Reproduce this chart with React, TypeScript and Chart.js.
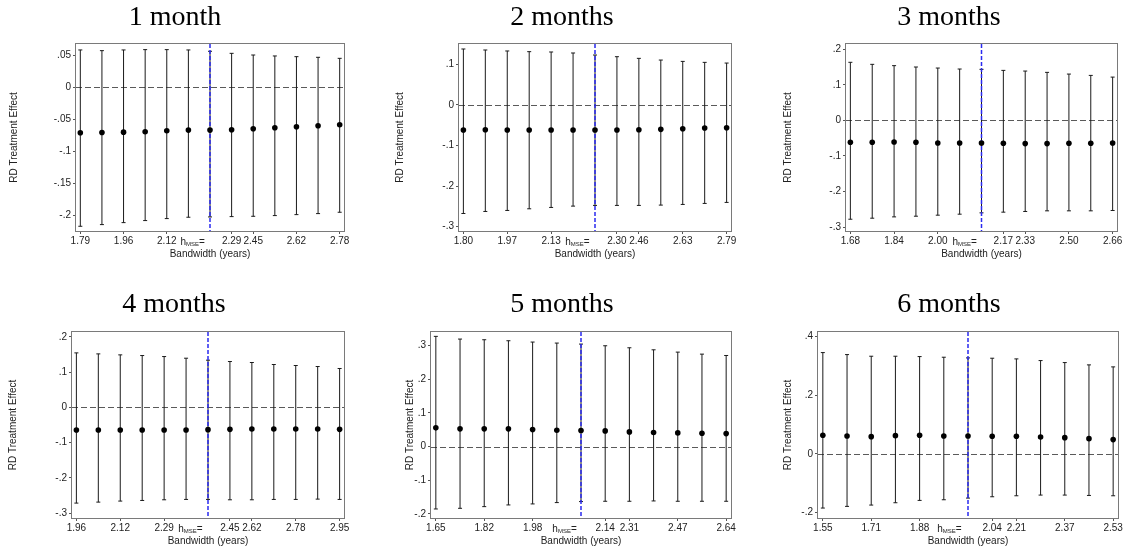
import { useEffect, useRef } from 'react';
import { Chart, registerables } from 'chart.js';

Chart.register(...registerables);

// ---- data -------------------------------------------------------------
// 13 bandwidths per panel, evenly spaced by step; step 6 is the MSE-optimal one.
const steps = [0, 1, 2, 3, 4, 5, 6, 7, 8, 9, 10, 11, 12];
const hMseStep = 6;

const titles = ['1 month', '2 months', '3 months', '4 months', '5 months', '6 months'];

// labelled steps on the bandwidth axis and their labels (years)
const bwTickSteps = [0, 2, 4, 7, 8, 10, 12];
const bwLabels1 = ['1.79', '1.96', '2.12', '2.29', '2.45', '2.62', '2.78'];
const bwLabels2 = ['1.80', '1.97', '2.13', '2.30', '2.46', '2.63', '2.79'];
const bwLabels3 = ['1.68', '1.84', '2.00', '2.17', '2.33', '2.50', '2.66'];
const bwLabels4 = ['1.96', '2.12', '2.29', '2.45', '2.62', '2.78', '2.95'];
const bwLabels5 = ['1.65', '1.82', '1.98', '2.14', '2.31', '2.47', '2.64'];
const bwLabels6 = ['1.55', '1.71', '1.88', '2.04', '2.21', '2.37', '2.53'];

// where the "h_MSE=" note sits on the step axis
const hMseNoteAt = [5.2, 5.2, 5.23, 5.2, 5.32, 5.23];

// y-axis ticks
const yTicks1 = [0.05, 0, -0.05, -0.1, -0.15, -0.2];
const yTicks2 = [0.1, 0, -0.1, -0.2, -0.3];
const yTicks3 = [0.2, 0.1, 0, -0.1, -0.2, -0.3];
const yTicks4 = [0.2, 0.1, 0, -0.1, -0.2, -0.3];
const yTicks5 = [0.3, 0.2, 0.1, 0, -0.1, -0.2];
const yTicks6 = [0.4, 0.2, 0, -0.2];

// y-axis ranges [min, max]
const yRange1 = [-0.2245, 0.0678];
const yRange2 = [-0.311, 0.1503];
const yRange3 = [-0.311, 0.215];
const yRange4 = [-0.314, 0.214];
const yRange5 = [-0.2121, 0.3407];
const yRange6 = [-0.2185, 0.4156];

// RD estimates with confidence bounds
const est1 = [-0.071, -0.0705, -0.07, -0.0694, -0.0678, -0.0668, -0.0668, -0.0663, -0.0647, -0.0632, -0.0616, -0.06, -0.0585];
const hi1 = [0.0585, 0.0574, 0.0585, 0.059, 0.059, 0.0585, 0.0564, 0.0532, 0.0506, 0.0491, 0.048, 0.047, 0.0454];
const lo1 = [-0.2171, -0.2145, -0.2114, -0.2082, -0.2051, -0.203, -0.2025, -0.202, -0.2015, -0.2004, -0.1989, -0.1973, -0.1952];

const est2 = [-0.062, -0.0612, -0.062, -0.062, -0.062, -0.062, -0.062, -0.062, -0.0612, -0.0603, -0.0587, -0.057, -0.0562];
const hi2 = [0.138, 0.1355, 0.1331, 0.1314, 0.1306, 0.1281, 0.1231, 0.119, 0.1149, 0.1107, 0.1074, 0.105, 0.1033];
const lo2 = [-0.2678, -0.2628, -0.2603, -0.2562, -0.2529, -0.2496, -0.2479, -0.2479, -0.2479, -0.2471, -0.2455, -0.243, -0.2405];

const est3 = [-0.0614, -0.0614, -0.0605, -0.0614, -0.0633, -0.0633, -0.0633, -0.0643, -0.0652, -0.0652, -0.0643, -0.0643, -0.0633];
const hi3 = [0.1635, 0.1578, 0.1541, 0.1503, 0.1474, 0.1446, 0.1437, 0.1408, 0.1389, 0.1352, 0.1304, 0.1267, 0.1219];
const lo3 = [-0.2779, -0.275, -0.2713, -0.2694, -0.2665, -0.2637, -0.2599, -0.258, -0.2561, -0.2543, -0.2543, -0.2543, -0.2533];

const est4 = [-0.0642, -0.0642, -0.0642, -0.0642, -0.0642, -0.0642, -0.0632, -0.0623, -0.0613, -0.0613, -0.0613, -0.0613, -0.0623];
const hi4 = [0.1547, 0.1519, 0.1491, 0.1472, 0.1443, 0.1396, 0.134, 0.1302, 0.1274, 0.1217, 0.1189, 0.116, 0.1104];
const lo4 = [-0.2717, -0.2689, -0.266, -0.2642, -0.2623, -0.2613, -0.2613, -0.2623, -0.2623, -0.2613, -0.2613, -0.2604, -0.2613];

const est5 = [0.0558, 0.0528, 0.0528, 0.0528, 0.0508, 0.0488, 0.0478, 0.0468, 0.0438, 0.0418, 0.0408, 0.0398, 0.0388];
const hi5 = [0.3277, 0.3197, 0.3177, 0.3147, 0.3108, 0.3078, 0.3048, 0.2998, 0.2938, 0.2878, 0.2809, 0.2749, 0.2709];
const lo5 = [-0.1853, -0.1833, -0.1783, -0.1733, -0.1703, -0.1663, -0.1633, -0.1624, -0.1624, -0.1614, -0.1624, -0.1624, -0.1624];

const est6 = [0.0634, 0.0612, 0.0589, 0.0623, 0.0634, 0.0612, 0.0612, 0.06, 0.06, 0.0578, 0.0555, 0.0521, 0.0487];
const hi6 = [0.3454, 0.3386, 0.333, 0.333, 0.3318, 0.3296, 0.3273, 0.3262, 0.3239, 0.3182, 0.3114, 0.3035, 0.2967];
const lo6 = [-0.1846, -0.1789, -0.1744, -0.1665, -0.1585, -0.1563, -0.1506, -0.1461, -0.1427, -0.1404, -0.1404, -0.1416, -0.1427];

const panelData = [
  { title: titles[0], est: est1, lo: lo1, hi: hi1, bw: bwLabels1, yTicks: yTicks1, yRange: yRange1, note: hMseNoteAt[0] },
  { title: titles[1], est: est2, lo: lo2, hi: hi2, bw: bwLabels2, yTicks: yTicks2, yRange: yRange2, note: hMseNoteAt[1] },
  { title: titles[2], est: est3, lo: lo3, hi: hi3, bw: bwLabels3, yTicks: yTicks3, yRange: yRange3, note: hMseNoteAt[2] },
  { title: titles[3], est: est4, lo: lo4, hi: hi4, bw: bwLabels4, yTicks: yTicks4, yRange: yRange4, note: hMseNoteAt[3] },
  { title: titles[4], est: est5, lo: lo5, hi: hi5, bw: bwLabels5, yTicks: yTicks5, yRange: yRange5, note: hMseNoteAt[4] },
  { title: titles[5], est: est6, lo: lo6, hi: hi6, bw: bwLabels6, yTicks: yTicks6, yRange: yRange6, note: hMseNoteAt[5] },
];

// ---- layout -----------------------------------------------------------
const PAGE_W = 1129;
const PAGE_H = 551;
const cells = [
  { x: 0, y: 0, w: 370, h: 280 },
  { x: 370, y: 0, w: 380, h: 280 },
  { x: 750, y: 0, w: 379, h: 280 },
  { x: 0, y: 280, w: 370, h: 271 },
  { x: 370, y: 280, w: 380, h: 271 },
  { x: 750, y: 280, w: 379, h: 271 },
];
// plot frames in page coordinates
const frames = [
  { l: 76, r: 344, t: 44, b: 231 },
  { l: 459, r: 731, t: 44, b: 231 },
  { l: 846, r: 1117, t: 44, b: 231 },
  { l: 72, r: 344, t: 332, b: 518 },
  { l: 431, r: 731, t: 332, b: 518 },
  { l: 818, r: 1118, t: 332, b: 518 },
];
const titleCx = [175, 562, 949, 174, 562, 949];
const titleBase = [25, 25, 25, 311.5, 311.5, 311.5];
const yTitleX = [14, 400, 788, 13, 410, 788];
const xTitleOffset = 23.5; // below frame bottom
const X_AXIS_H = 20;

const SANS = '"Liberation Sans", Arial, Helvetica, sans-serif';
const SERIF = '"Liberation Serif", "Times New Roman", serif';

function stataNum(v: number): string {
  if (Math.abs(v) < 1e-9) return '0';
  const s = String(Math.round(v * 1000) / 1000);
  return s.replace(/^(-?)0\./, '$1.');
}

const decorPlugin = {
  id: 'rdDecor',
  beforeDatasetsDraw(chart: any, _args: any, opts: any) {
    const { ctx, chartArea } = chart;
    const xs = chart.scales.x;
    const ys = chart.scales.y;
    const p = opts.panel;
    ctx.save();
    // zero reference line
    ctx.strokeStyle = '#5a5a5a';
    ctx.lineWidth = 1;
    ctx.setLineDash([6, 3]);
    const y0 = Math.round(ys.getPixelForValue(0)) + 0.5;
    ctx.beginPath();
    ctx.moveTo(chartArea.left, y0);
    ctx.lineTo(chartArea.right, y0);
    ctx.stroke();
    ctx.setLineDash([]);
    // confidence intervals
    ctx.strokeStyle = '#1a1a1a';
    ctx.lineWidth = 1;
    steps.forEach((s, i) => {
      const x = xs.getPixelForValue(s);
      const yt = ys.getPixelForValue(p.hi[i]);
      const yb = ys.getPixelForValue(p.lo[i]);
      ctx.beginPath();
      ctx.moveTo(x, yt);
      ctx.lineTo(x, yb);
      ctx.moveTo(x - 2, yt);
      ctx.lineTo(x + 2, yt);
      ctx.moveTo(x - 2, yb);
      ctx.lineTo(x + 2, yb);
      ctx.stroke();
    });
    // optimal bandwidth marker
    const xh = xs.getPixelForValue(hMseStep);
    ctx.strokeStyle = '#2a2af0';
    ctx.lineWidth = 1.5;
    ctx.setLineDash([4, 2]);
    ctx.beginPath();
    ctx.moveTo(xh, chartArea.top);
    ctx.lineTo(xh, chartArea.bottom);
    ctx.stroke();
    ctx.restore();
  },
  afterDraw(chart: any, _args: any, opts: any) {
    const { ctx, chartArea } = chart;
    const xs = chart.scales.x;
    const p = opts.panel;
    const cell = opts.cell;
    ctx.save();
    // plot frame
    ctx.strokeStyle = '#7a7a7a';
    ctx.lineWidth = 1;
    ctx.strokeRect(chartArea.left - 0.5, chartArea.top - 0.5, chartArea.right - chartArea.left + 1, chartArea.bottom - chartArea.top + 1);

    // panel title
    ctx.fillStyle = '#000';
    ctx.font = `28px ${SERIF}`;
    ctx.textAlign = 'center';
    ctx.textBaseline = 'alphabetic';
    ctx.fillText(p.title, opts.titleCx - cell.x, opts.titleBase - cell.y);

    // axis titles
    ctx.fillStyle = '#222';
    ctx.font = `10px ${SANS}`;
    ctx.textBaseline = 'middle';
    ctx.fillText('Bandwidth (years)', (chartArea.left + chartArea.right) / 2, chartArea.bottom + xTitleOffset);
    ctx.save();
    ctx.translate(opts.yTitleX - cell.x, (chartArea.top + chartArea.bottom) / 2);
    ctx.rotate(-Math.PI / 2);
    ctx.fillText('RD Treatment Effect', 0, 0);
    ctx.restore();

    // h_MSE= note on the bandwidth axis
    const cx = xs.getPixelForValue(p.note);
    const base = chartArea.bottom + 13.5;
    ctx.textAlign = 'left';
    ctx.textBaseline = 'alphabetic';
    ctx.font = `10px ${SANS}`;
    const wH = ctx.measureText('h').width;
    const wEq = ctx.measureText('=').width;
    ctx.font = `6px ${SANS}`;
    const wSub = ctx.measureText('MSE').width;
    let x = cx - (wH + wSub + wEq) / 2;
    ctx.font = `10px ${SANS}`;
    ctx.fillText('h', x, base);
    x += wH;
    ctx.font = `6px ${SANS}`;
    ctx.fillText('MSE', x, base + 1.5);
    x += wSub;
    ctx.font = `10px ${SANS}`;
    ctx.fillText('=', x, base);
    ctx.restore();
  },
};

function Panel({ index }: { index: number }) {
  const ref = useRef<HTMLCanvasElement | null>(null);
  const cell = cells[index];

  useEffect(() => {
    const p = panelData[index];
    const f = frames[index];
    const canvas = ref.current;
    if (!canvas) return;
    const yAxisW = f.l - cell.x;
    const chart = new Chart(canvas, {
      type: 'scatter',
      data: {
        datasets: [
          {
            data: steps.map((s, i) => ({ x: s, y: p.est[i] })),
            pointRadius: 2.8,
            pointHoverRadius: 2.8,
            backgroundColor: '#000',
            borderWidth: 0,
          },
        ],
      },
      options: {
        animation: false,
        responsive: false,
        maintainAspectRatio: false,
        events: [],
        layout: {
          padding: {
            left: 0,
            top: f.t - cell.y,
            right: cell.x + cell.w - f.r,
            bottom: cell.y + cell.h - f.b - X_AXIS_H,
          },
        },
        plugins: {
          legend: { display: false },
          tooltip: { enabled: false },
          title: { display: false },
          rdDecor: {
            panel: p,
            cell,
            titleCx: titleCx[index],
            titleBase: titleBase[index],
            yTitleX: yTitleX[index],
          },
        } as any,
        scales: {
          x: {
            type: 'linear',
            min: -0.2,
            max: 12.2,
            afterBuildTicks: (s: any) => {
              s.ticks = bwTickSteps.map((v) => ({ value: v }));
            },
            afterFit: (s: any) => {
              s.height = X_AXIS_H;
              s.paddingLeft = 0;
              s.paddingRight = 0;
            },
            ticks: {
              autoSkip: false,
              maxRotation: 0,
              padding: 1,
              color: '#222',
              font: { family: SANS, size: 10 },
              callback: (v: any) => {
                const k = bwTickSteps.indexOf(Number(v));
                return k >= 0 ? p.bw[k] : '';
              },
            },
            grid: { display: true, drawOnChartArea: false, drawTicks: true, tickLength: 3, color: '#555' },
            border: { display: false },
          },
          y: {
            type: 'linear',
            min: p.yRange[0],
            max: p.yRange[1],
            afterBuildTicks: (s: any) => {
              s.ticks = p.yTicks.map((v) => ({ value: v }));
            },
            afterFit: (s: any) => {
              s.width = yAxisW;
              s.paddingTop = 0;
              s.paddingBottom = 0;
            },
            ticks: {
              autoSkip: false,
              padding: 2,
              color: '#222',
              font: { family: SANS, size: 10 },
              callback: (v: any) => stataNum(Number(v)),
            },
            grid: { display: true, drawOnChartArea: false, drawTicks: true, tickLength: 3, color: '#555' },
            border: { display: false },
          },
        },
      } as any,
      plugins: [decorPlugin],
    });
    return () => chart.destroy();
  }, [index]);

  return (
    <canvas
      ref={ref}
      width={cell.w}
      height={cell.h}
      style={{ position: 'absolute', left: cell.x, top: cell.y, width: cell.w, height: cell.h }}
    />
  );
}

export default function App() {
  return (
    <div
      style={{
        position: 'absolute',
        left: 0,
        top: 0,
        width: PAGE_W,
        height: PAGE_H,
        background: '#fff',
        overflow: 'hidden',
      }}
    >
      {panelData.map((_, i) => (
        <Panel key={i} index={i} />
      ))}
    </div>
  );
}
